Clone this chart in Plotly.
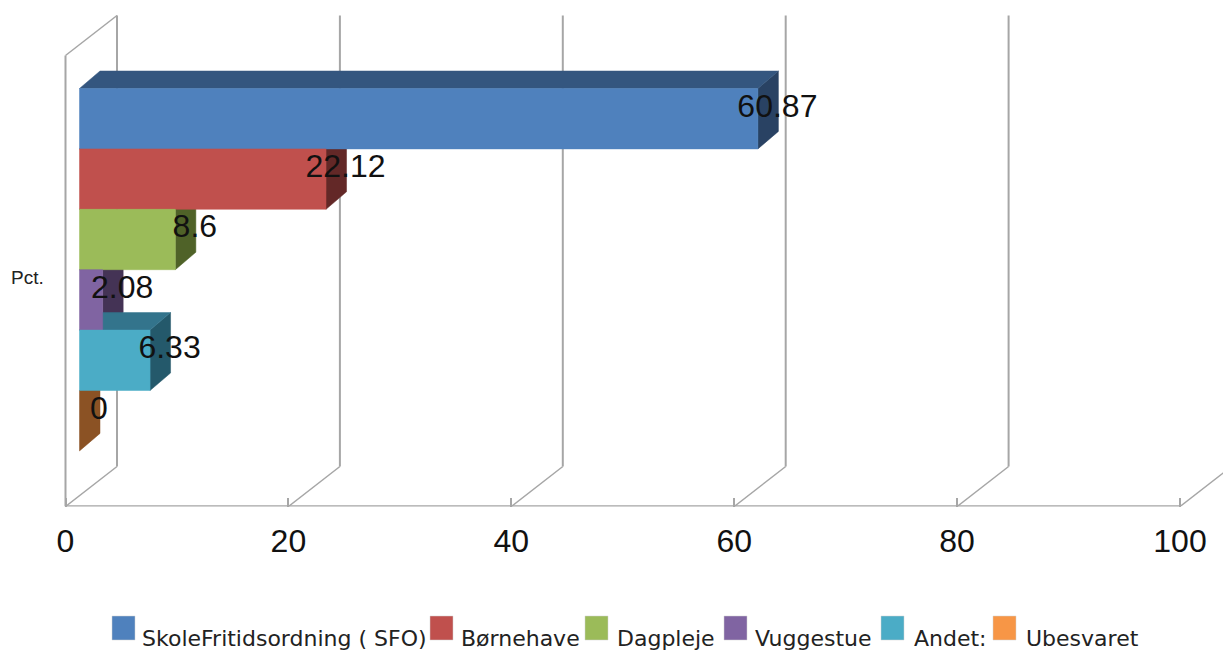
import plotly.graph_objects as go

# ---- data ----
categories = ["SkoleFritidsordning ( SFO)", "Børnehave", "Dagpleje", "Vuggestue", "Andet:", "Ubesvaret"]
values = [60.87, 22.12, 8.6, 2.08, 6.33, 0]
value_labels = ["60.87", "22.12", "8.6", "2.08", "6.33", "0"]
front_colors = ["#4F81BD", "#C0504D", "#9BBB59", "#8064A2", "#4BACC6", "#F79646"]
top_colors = ["#34567F", "#813735", "#68803C", "#56446E", "#33748C", "#A86530"]
side_colors = ["#294263", "#632827", "#4F6228", "#443355", "#24596B", "#8B5224"]
tick_values = [0, 20, 40, 60, 80, 100]
category_axis_label = "Pct."

# ---- geometry (pixels of the 1223x652 page) ----
W, H = 1223, 652
X0_PX, PX_PER_UNIT = 65.5, 11.145
AXIS_Y_PX = 506.5
ROW_PX, ROW0_PX = 60.4, 88.5
GRID = "#A6A6A6"


def dx(px):
    return px / PX_PER_UNIT


def dy(px):
    return px / ROW_PX


x_range = [-dx(X0_PX), dx(W - X0_PX)]
y_range = [dy(AXIS_Y_PX - ROW0_PX), -dy(ROW0_PX)]  # row units, row 0 is the top bar
floor_y = dy(AXIS_Y_PX - ROW0_PX)
WALL_DX, WALL_DY = dx(51.5), dy(40)
WALL_H = dy(451)
BAR_DX, BAR_DY = dx(20.5), dy(17.5)
BAR_SHIFT = dx(14)

fig = go.Figure()


def line(xs, ys, width=2.0):
    fig.add_trace(go.Scatter(x=xs, y=ys, mode="lines", line=dict(color=GRID, width=width),
                             hoverinfo="skip", showlegend=False))


def poly(xs, ys, color, name):
    fig.add_trace(go.Scatter(x=xs, y=ys, mode="lines", fill="toself", fillcolor=color,
                             line=dict(color=color, width=0.5), name=name,
                             hoverinfo="skip", showlegend=False))


# walls and grid
line([0, 0], [floor_y, floor_y - WALL_H])
line([0, WALL_DX], [floor_y - WALL_H, floor_y - WALL_H - WALL_DY], 1.5)
for t in tick_values:
    back_x = t + WALL_DX
    line([back_x, back_x], [floor_y - WALL_DY, floor_y - WALL_DY - WALL_H])
    line([t, back_x], [floor_y, floor_y - WALL_DY], 1.5)
line([tick_values[0], tick_values[-1]], [floor_y, floor_y], 2.5)

# bars: sides first, then tops, then fronts
for i, v in enumerate(values):
    end = BAR_SHIFT + v
    poly([end, end + BAR_DX, end + BAR_DX, end, end],
         [i, i - BAR_DY, i + 1 - BAR_DY, i + 1, i], side_colors[i], categories[i])
for i, v in enumerate(values):
    end = BAR_SHIFT + v
    poly([BAR_SHIFT, BAR_SHIFT + BAR_DX, end + BAR_DX, end, BAR_SHIFT],
         [i, i - BAR_DY, i - BAR_DY, i, i], top_colors[i], categories[i])
for i, v in enumerate(values):
    end = BAR_SHIFT + v
    if v > 0:
        poly([BAR_SHIFT, end, end, BAR_SHIFT, BAR_SHIFT],
             [i, i, i + 1, i + 1, i], front_colors[i], categories[i])

# value labels
fig.add_trace(go.Scatter(
    x=[BAR_SHIFT + v + dx(19.5) for v in values],
    y=[i + dy(20) for i in range(len(values))],
    mode="text", text=value_labels, textposition="middle center",
    textfont=dict(family="Liberation Sans", size=32, color="#111111"),
    hoverinfo="skip", showlegend=False, cliponaxis=False))

# legend
swatch_px = [112, 430, 585, 724, 881, 993]
text_px = [140, 459, 615, 753, 912, 1024]
shapes = []
annotations = []
for i, name in enumerate(categories):
    shapes.append(dict(type="rect", xref="paper", yref="paper",
                       x0=swatch_px[i] / W, x1=(swatch_px[i] + 23) / W,
                       y0=1 - 640 / H, y1=1 - 616 / H,
                       fillcolor=front_colors[i], line=dict(color="#D0D0D0", width=0.5)))
    annotations.append(dict(text=name, xref="paper", yref="paper", showarrow=False,
                            x=text_px[i] / W, y=1 - 638 / H, xanchor="left", yanchor="middle",
                            font=dict(family="DejaVu Sans", size=22, color="#222222")))
annotations.append(dict(text=category_axis_label, xref="paper", yref="paper", showarrow=False,
                        x=9 / W, y=1 - 277 / H, xanchor="left", yanchor="middle",
                        font=dict(family="Liberation Sans", size=19, color="#222222")))

fig.update_layout(
    width=W, height=H, margin=dict(l=0, r=0, t=0, b=0), autosize=False,
    paper_bgcolor="white", plot_bgcolor="white", showlegend=False,
    shapes=shapes, annotations=annotations,
    xaxis=dict(range=x_range, tickvals=tick_values, ticktext=[str(t) for t in tick_values],
               ticks="inside", ticklen=9, tickwidth=2, tickcolor=GRID, showgrid=False, zeroline=False,
               showline=False, tickfont=dict(family="Liberation Sans", size=32, color="#111111"),
               ticklabelstandoff=12),
    yaxis=dict(range=y_range, domain=[(H - AXIS_Y_PX) / H, 1], visible=False, fixedrange=True),
)

fig.write_html("out.html", config={"displayModeBar": False},
               post_script="document.body.style.margin='0';document.body.style.overflow='hidden';")
